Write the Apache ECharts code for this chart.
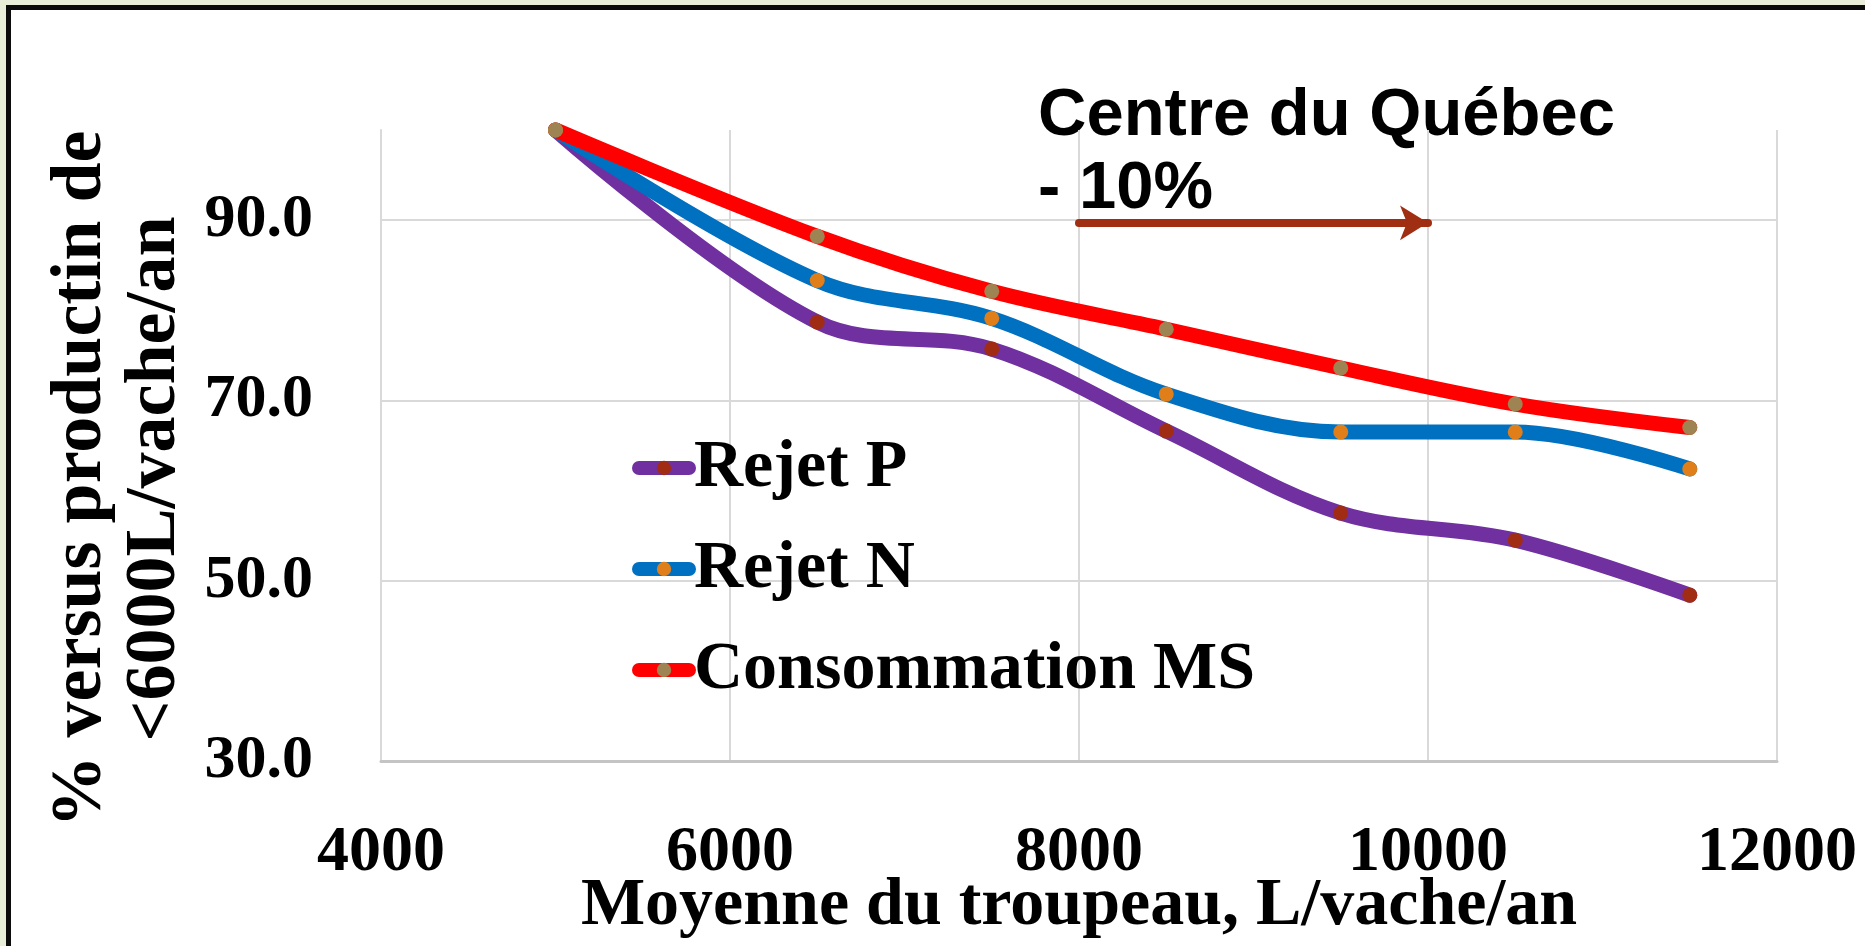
<!DOCTYPE html>
<html>
<head>
<meta charset="utf-8">
<title>Centre du Québec</title>
<script src="https://cdn.jsdelivr.net/npm/echarts@6/dist/echarts.min.js"></script>
<style>
  html, body { margin: 0; padding: 0; width: 100%; height: 100%; background: #e9eed8; overflow: hidden; }
  .frame {
    position: absolute; left: 6px; top: 5px; right: 0; bottom: 0;
    background: #fff; border-left: 5px solid #0b0b0b; border-top: 5px solid #0b0b0b;
  }
  #chart { position: absolute; left: 0; top: 0; width: 1865px; height: 946px; }
</style>
</head>
<body>
<div class="frame"></div>
<div id="chart"></div>
<script>
// production moyenne du troupeau (L/vache/an)
const production = [5000, 6500, 7500, 8500, 9500, 10500, 11500]
// % versus production de <6000 L/vache/an
const rejetP = [100, 78.7, 75.7, 66.6, 57.5, 54.5, 48.4]
const rejetN = [100, 83.3, 79.1, 70.7, 66.5, 66.5, 62.4]
const consommationMS = [100, 88.2, 82.1, 77.9, 73.6, 69.6, 67.0]
const seriesNames = ['Rejet P', 'Rejet N', 'Consommation MS']
const xTicks = [4000, 6000, 8000, 10000, 12000]
const yTicks = [30, 50, 70, 90]

const serif = '"Liberation Serif", "Times New Roman", serif'
const sans = '"Liberation Sans", Arial, sans-serif'

function pairs (ys) {
  return production.map((x, i) => [x, ys[i]])
}

function lineSeries (name, ys, lineColor, dotColor) {
  return {
    name: name,
    type: 'line',
    smooth: 0.35,
    data: pairs(ys),
    symbol: 'circle',
    symbolSize: 15,
    showSymbol: true,
    lineStyle: { width: 15, color: lineColor, cap: 'round', join: 'round' },
    itemStyle: { color: dotColor },
    emphasis: { disabled: true }
  }
}

const series = [
  lineSeries(seriesNames[0], rejetP, '#7030a0', '#a12c14'),
  lineSeries(seriesNames[1], rejetN, '#0070c0', '#e07e1a'),
  lineSeries(seriesNames[2], consommationMS, '#ff0000', '#9e8452')
]

// fleche -10% entre 8000 et 10000
series[2].markLine = {
  silent: true,
  symbol: ['none', 'arrow'],
  symbolSize: [26, 28],
  label: { show: false },
  lineStyle: { color: '#a02e12', width: 8, type: 'solid', cap: 'round' },
  data: [[{ coord: [8000, 89.7] }, { coord: [10000, 89.7] }]]
}

const option = {
  animation: false,
  backgroundColor: 'transparent',
  grid: { left: 381, right: 88, top: 130, bottom: 185, outerBoundsMode: 'none', containLabel: false },
  legend: {
    data: seriesNames,
    orient: 'vertical',
    left: 627,
    top: 422,
    itemWidth: 50,
    itemHeight: 18,
    itemGap: 19,
    selectedMode: false,
    lineStyle: { width: 14, cap: 'round' },
    textStyle: { fontFamily: serif, fontWeight: 'bold', fontSize: 68, lineHeight: 82, color: '#000' }
  },
  xAxis: {
    type: 'value',
    min: xTicks[0],
    max: xTicks[xTicks.length - 1],
    interval: 2000,
    name: 'Moyenne du troupeau, L/vache/an',
    nameLocation: 'middle',
    nameGap: 111,
    nameMoveOverlap: false,
    nameTextStyle: { fontFamily: serif, fontWeight: 'bold', fontSize: 68, color: '#000' },
    axisLine: { show: true, lineStyle: { color: '#c4c4c4', width: 3 } },
    axisTick: { show: false },
    axisLabel: {
      margin: 60,
      fontFamily: serif,
      fontWeight: 'bold',
      fontSize: 64,
      color: '#000',
      formatter: v => String(v)
    },
    splitLine: { show: true, lineStyle: { color: '#d9d9d9', width: 2 } }
  },
  yAxis: {
    type: 'value',
    min: yTicks[0],
    max: 100,
    interval: 20,
    axisLine: { show: true, lineStyle: { color: '#d9d9d9', width: 2 } },
    axisTick: { show: false },
    axisLabel: {
      margin: 68,
      showMaxLabel: false,
      fontFamily: serif,
      fontWeight: 'bold',
      fontSize: 62,
      color: '#000',
      formatter: v => v.toFixed(1)
    },
    splitLine: { show: true, showMaxLine: false, lineStyle: { color: '#d9d9d9', width: 2 } }
  },
  graphic: [
    {
      type: 'text',
      x: 118,
      y: 479,
      rotation: Math.PI / 2,
      style: {
        text: '% versus productin de\n<6000L/vache/an',
        fontFamily: serif,
        fontWeight: 'bold',
        fontSize: 72,
        lineHeight: 74,
        fill: '#000',
        align: 'center',
        verticalAlign: 'middle'
      }
    },
    {
      type: 'text',
      left: 1038,
      top: 80,
      style: {
        text: 'Centre du Québec\n- 10%',
        fontFamily: sans,
        fontWeight: 'bold',
        fontSize: 67,
        lineHeight: 73,
        fill: '#000'
      }
    }
  ],
  series: series
}

const dom = echarts.init(document.getElementById('chart'))
dom.setOption(option)
window.addEventListener('resize', () => dom.resize())
</script>
</body>
</html>
